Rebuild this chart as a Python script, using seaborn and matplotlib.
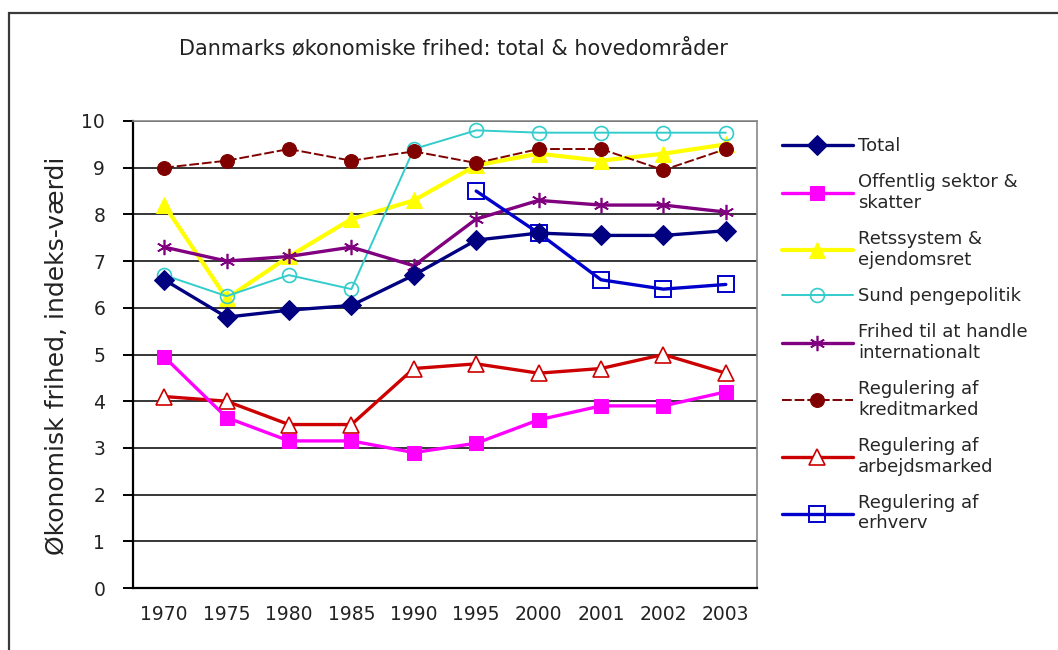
import numpy as np
import pandas as pd
import matplotlib
matplotlib.use("Agg")
import matplotlib.pyplot as plt
from matplotlib.patches import Rectangle
import seaborn as sns

years = ["1970", "1975", "1980", "1985", "1990", "1995", "2000", "2001", "2002", "2003"]

total = [6.6, 5.8, 5.95, 6.05, 6.7, 7.45, 7.6, 7.55, 7.55, 7.65]
offentlig = [4.95, 3.65, 3.15, 3.15, 2.9, 3.1, 3.6, 3.9, 3.9, 4.2]
retssystem = [8.2, 6.2, 7.1, 7.9, 8.3, 9.05, 9.3, 9.15, 9.3, 9.5]
penge = [6.7, 6.25, 6.7, 6.4, 9.4, 9.8, 9.75, 9.75, 9.75, 9.75]
handel = [7.3, 7.0, 7.1, 7.3, 6.9, 7.9, 8.3, 8.2, 8.2, 8.05]
kredit = [9.0, 9.15, 9.4, 9.15, 9.35, 9.1, 9.4, 9.4, 8.95, 9.4]
arbejde = [4.1, 4.0, 3.5, 3.5, 4.7, 4.8, 4.6, 4.7, 5.0, 4.6]
erhverv = [np.nan, np.nan, np.nan, np.nan, np.nan, 8.5, 7.6, 6.6, 6.4, 6.5]

labels = [
    "Total",
    "Offentlig sektor &\nskatter",
    "Retssystem &\nejendomsret",
    "Sund pengepolitik",
    "Frihed til at handle\ninternationalt",
    "Regulering af\nkreditmarked",
    "Regulering af\narbejdsmarked",
    "Regulering af\nerhverv",
]

sns.set_style("white")
plt.rcParams["font.family"] = ["DejaVu Sans"]

fig = plt.figure(figsize=(10.58, 6.5), dpi=100)
ax = fig.add_axes([133 / 1058, 1 - 588 / 650, 624 / 1058, 467 / 650])

# outer chart frame (cut off at right and bottom like the source image)
fig.patches.append(Rectangle((9 / 1058, -0.05), 1.1, 1 - 13 / 650 + 0.05,
                             transform=fig.transFigure, fill=False,
                             edgecolor="#3a3a3a", linewidth=1.6))

styles = [
    (total, dict(color="#000080", lw=2.4, marker="D", ms=10, mfc="#000080", mec="#000080", zorder=6)),
    (offentlig, dict(color="#FF00FF", lw=2.4, marker="s", ms=10, mfc="#FF00FF", mec="#FF00FF", zorder=5)),
    (retssystem, dict(color="#FFFF00", lw=3, marker="^", ms=11, mfc="#FFFF00", mec="#FFFF00", zorder=3)),
    (penge, dict(color="#33CCCC", lw=1.4, marker="o", ms=10, mfc="none", mec="#33CCCC", mew=1.2, zorder=4)),
    (handel, dict(color="#800080", lw=2.4, marker=(6, 2, 0), ms=11, mec="#800080", mew=1.2, zorder=4)),
    (kredit, dict(color="#800000", lw=1.4, marker="o", ms=10, mfc="#800000", mec="#800000",
                  linestyle=(0, (5, 1.5)), zorder=4)),
    (arbejde, dict(color="#CC0000", lw=2.4, marker="^", ms=11, mfc="white", mec="#CC0000", mew=1.2, zorder=4)),
    (erhverv, dict(color="#0000CC", lw=2.4, marker="s", ms=11, mfc="none", mec="#0000CC", mew=1.4, zorder=5)),
]

for (vals, kw), lab in zip(styles, labels):
    df = pd.DataFrame({"år": years, "værdi": vals}).dropna()
    sns.lineplot(data=df, x="år", y="værdi", ax=ax, sort=False, label=lab, **kw)

ax.set_xlim(-0.5, len(years) - 0.5)
ax.set_ylim(0, 10)
ax.set_yticks(range(0, 11))
ax.yaxis.grid(True, color="black", linewidth=1.1)
ax.set_axisbelow(True)
ax.set_xticks(range(len(years)))
ax.set_xticklabels(years)
ax.set_xticks(np.arange(-0.5, len(years)), minor=True)
ax.tick_params(axis="x", which="major", length=0, labelsize=13.5, pad=12, colors="#222222")
ax.tick_params(axis="x", which="minor", length=7, width=1.4, color="black", direction="out")
ax.tick_params(axis="y", length=7, width=1.4, color="black", direction="out", labelsize=13.5, pad=13,
               labelcolor="#222222")
ax.tick_params(left=True, bottom=True)

for side in ["left", "bottom"]:
    ax.spines[side].set_color("black")
    ax.spines[side].set_linewidth(1.6)
for side in ["top", "right"]:
    ax.spines[side].set_color("#888888")
    ax.spines[side].set_linewidth(1.2)

ax.set_xlabel("")
ax.set_ylabel("Økonomisk frihed, indeks-værdi", fontsize=18, color="#222222")
ax.yaxis.set_label_coords(57 / 1058, 1 - 356 / 650, transform=fig.transFigure)
ax.yaxis.label.set_va("center")
fig.text(453 / 1058, 1 - 48 / 650, "Danmarks økonomiske frihed: total & hovedområder",
         ha="center", va="center", fontsize=15, color="#222222")

ax.legend(loc="upper left", bbox_to_anchor=(775 / 1058, 1 - 130 / 650), bbox_transform=fig.transFigure,
          frameon=False, fontsize=13, handlelength=3.9, handletextpad=0.3, labelspacing=1.0,
          borderaxespad=0)

fig.savefig("out.png", dpi=100)
